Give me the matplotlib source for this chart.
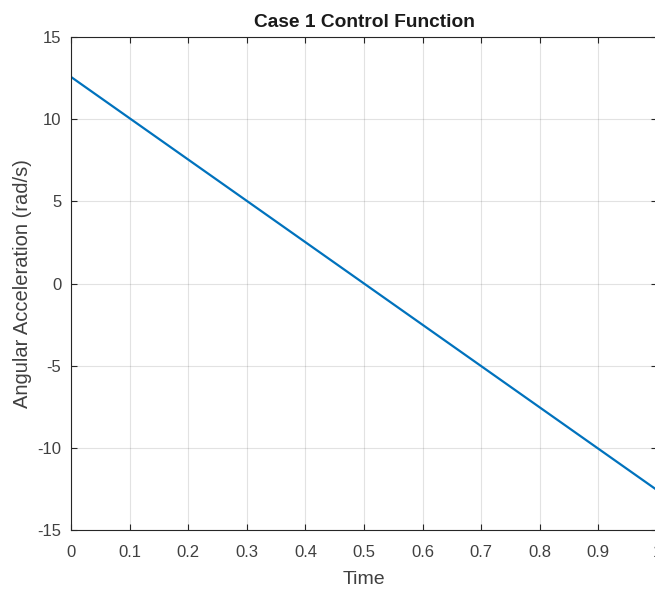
import numpy as np
import matplotlib
matplotlib.use("Agg")
import matplotlib.pyplot as plt

# control input over the normalised time horizon
t = [0.0, 1.0]
u = [12.57, -12.57]

x_ticks = [0, 0.1, 0.2, 0.3, 0.4, 0.5, 0.6, 0.7, 0.8, 0.9, 1]
x_tick_labels = ["0", "0.1", "0.2", "0.3", "0.4", "0.5", "0.6", "0.7", "0.8", "0.9", "1"]
y_ticks = [-15, -10, -5, 0, 5, 10, 15]
y_tick_labels = ["-15", "-10", "-5", "0", "5", "10", "15"]

plt.rcParams["font.family"] = ["Liberation Sans", "DejaVu Sans"]

fig = plt.figure(figsize=(6.55, 5.90), dpi=100)
ax = fig.add_axes([71 / 655, 1 - 530 / 590, 586 / 655, 493 / 590])

ax.plot(t, u, color="#0072BD", linewidth=1.6, solid_capstyle="butt")

ax.set_xlim(0, 1)
ax.set_ylim(-15, 15)
ax.set_xticks(x_ticks)
ax.set_xticklabels(x_tick_labels)
ax.set_yticks(y_ticks)
ax.set_yticklabels(y_tick_labels)

ax.grid(True, color="#262626", alpha=0.13, linewidth=0.8)
ax.tick_params(direction="in", length=4.5, width=0.8, colors="#262626",
               labelcolor="#404040", labelsize=12, top=True, right=True)
ax.tick_params(axis="x", pad=11)
ax.tick_params(axis="y", pad=7)
for side in ax.spines.values():
    side.set_color("#262626")
    side.set_linewidth(0.8)

ax.set_title("Case 1 Control Function", fontsize=13.8, fontweight="bold", color="#1a1a1a", pad=7)
ax.set_xlabel("Time", fontsize=14, color="#404040", labelpad=8)
ax.set_ylabel("Angular Acceleration (rad/s)", fontsize=14.5, color="#404040", labelpad=4)

fig.savefig("out.png", dpi=100)
